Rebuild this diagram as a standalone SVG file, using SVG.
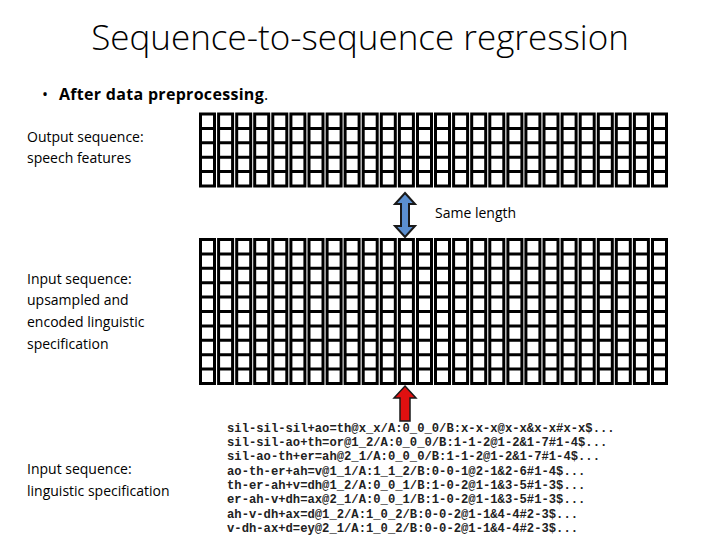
<svg xmlns="http://www.w3.org/2000/svg" width="720" height="540" viewBox="0 0 720 540">
<defs>
<style>
.t{font-family:"Open Sans","Liberation Sans",Arial,sans-serif;fill:#000}
.c{fill:none;stroke:#000;stroke-width:3}
.m{font-family:"Liberation Mono","Courier New",monospace;font-size:12.2px;font-weight:bold;fill:#222}
</style>
<g id="colTop"><rect class="c" x="0" y="0" width="14" height="72"/><path class="c" d="M0 14.4H14M0 28.8H14M0 43.2H14M0 57.6H14"/></g>
<g id="colBot"><rect class="c" x="0" y="0" width="14" height="144"/><path class="c" d="M0 14.4H14M0 28.8H14M0 43.2H14M0 57.6H14M0 72H14M0 86.4H14M0 100.8H14M0 115.2H14M0 129.6H14"/></g>
</defs>
<rect width="720" height="540" fill="#fff"/>
<text class="t" x="360" y="50" font-size="35" font-weight="300" text-anchor="middle">Sequence-to-sequence regression</text>
<text class="t" x="42" y="100" font-size="16">•</text>
<text class="t" x="59" y="100" font-size="16" font-weight="bold" letter-spacing="0.3">After data preprocessing<tspan font-weight="normal">.</tspan></text>
<g id="out-label"><text class="t" x="27" y="142" font-size="14">Output sequence:</text><text class="t" x="27" y="163" font-size="14">speech features</text></g>
<g id="in-label"><text class="t" x="27" y="284" font-size="14">Input sequence:</text><text class="t" x="27" y="305" font-size="14">upsampled and</text><text class="t" x="27" y="327" font-size="14">encoded linguistic</text><text class="t" x="27" y="349" font-size="14">specification</text></g>
<g id="ling-label"><text class="t" x="27" y="474" font-size="14">Input sequence:</text><text class="t" x="27" y="496" font-size="14">linguistic specification</text></g>
<text class="t" x="435" y="218" font-size="14">Same length</text>
<g id="output-grid">
<use href="#colTop" x="200.5" y="114"/><use href="#colTop" x="218.6" y="114"/><use href="#colTop" x="236.7" y="114"/><use href="#colTop" x="254.7" y="114"/><use href="#colTop" x="272.8" y="114"/><use href="#colTop" x="290.9" y="114"/><use href="#colTop" x="309" y="114"/><use href="#colTop" x="327.1" y="114"/><use href="#colTop" x="345.1" y="114"/><use href="#colTop" x="363.2" y="114"/><use href="#colTop" x="381.3" y="114"/><use href="#colTop" x="399.4" y="114"/><use href="#colTop" x="417.5" y="114"/><use href="#colTop" x="435.5" y="114"/><use href="#colTop" x="453.6" y="114"/><use href="#colTop" x="471.7" y="114"/><use href="#colTop" x="489.8" y="114"/><use href="#colTop" x="507.9" y="114"/><use href="#colTop" x="525.9" y="114"/><use href="#colTop" x="544" y="114"/><use href="#colTop" x="562.1" y="114"/><use href="#colTop" x="580.2" y="114"/><use href="#colTop" x="598.3" y="114"/><use href="#colTop" x="616.3" y="114"/><use href="#colTop" x="634.4" y="114"/><use href="#colTop" x="652.5" y="114"/>
</g>
<g id="input-grid">
<use href="#colBot" x="200.5" y="239.5"/><use href="#colBot" x="218.6" y="239.5"/><use href="#colBot" x="236.7" y="239.5"/><use href="#colBot" x="254.7" y="239.5"/><use href="#colBot" x="272.8" y="239.5"/><use href="#colBot" x="290.9" y="239.5"/><use href="#colBot" x="309" y="239.5"/><use href="#colBot" x="327.1" y="239.5"/><use href="#colBot" x="345.1" y="239.5"/><use href="#colBot" x="363.2" y="239.5"/><use href="#colBot" x="381.3" y="239.5"/><use href="#colBot" x="399.4" y="239.5"/><use href="#colBot" x="417.5" y="239.5"/><use href="#colBot" x="435.5" y="239.5"/><use href="#colBot" x="453.6" y="239.5"/><use href="#colBot" x="471.7" y="239.5"/><use href="#colBot" x="489.8" y="239.5"/><use href="#colBot" x="507.9" y="239.5"/><use href="#colBot" x="525.9" y="239.5"/><use href="#colBot" x="544" y="239.5"/><use href="#colBot" x="562.1" y="239.5"/><use href="#colBot" x="580.2" y="239.5"/><use href="#colBot" x="598.3" y="239.5"/><use href="#colBot" x="616.3" y="239.5"/><use href="#colBot" x="634.4" y="239.5"/><use href="#colBot" x="652.5" y="239.5"/>
</g>
<g id="connectors">
<path d="M405 193 L415 204 L409 204 L409 226 L415 226 L405 237 L395 226 L401 226 L401 204 L395 204 Z" fill="#5b8fd0" stroke="#1a1a1a" stroke-width="2"/>
<path d="M405 386 L416 398 L410 398 L410 421 L400 421 L400 398 L394 398 Z" fill="#e01010" stroke="#1a1a1a" stroke-width="1.5"/>
</g>
<g id="linguistic">
<text class="m" x="227" y="432">sil-sil-sil+ao=th@x_x/A:0_0_0/B:x-x-x@x-x&amp;x-x#x-x$...</text>
<text class="m" x="227" y="446">sil-sil-ao+th=or@1_2/A:0_0_0/B:1-1-2@1-2&amp;1-7#1-4$...</text>
<text class="m" x="227" y="460">sil-ao-th+er=ah@2_1/A:0_0_0/B:1-1-2@1-2&amp;1-7#1-4$...</text>
<text class="m" x="227" y="475">ao-th-er+ah=v@1_1/A:1_1_2/B:0-0-1@2-1&amp;2-6#1-4$...</text>
<text class="m" x="227" y="489">th-er-ah+v=dh@1_2/A:0_0_1/B:1-0-2@1-1&amp;3-5#1-3$...</text>
<text class="m" x="227" y="503">er-ah-v+dh=ax@2_1/A:0_0_1/B:1-0-2@1-1&amp;3-5#1-3$...</text>
<text class="m" x="227" y="518">ah-v-dh+ax=d@1_2/A:1_0_2/B:0-0-2@1-1&amp;4-4#2-3$...</text>
<text class="m" x="227" y="532">v-dh-ax+d=ey@2_1/A:1_0_2/B:0-0-2@1-1&amp;4-4#2-3$...</text>
</g>
</svg>
